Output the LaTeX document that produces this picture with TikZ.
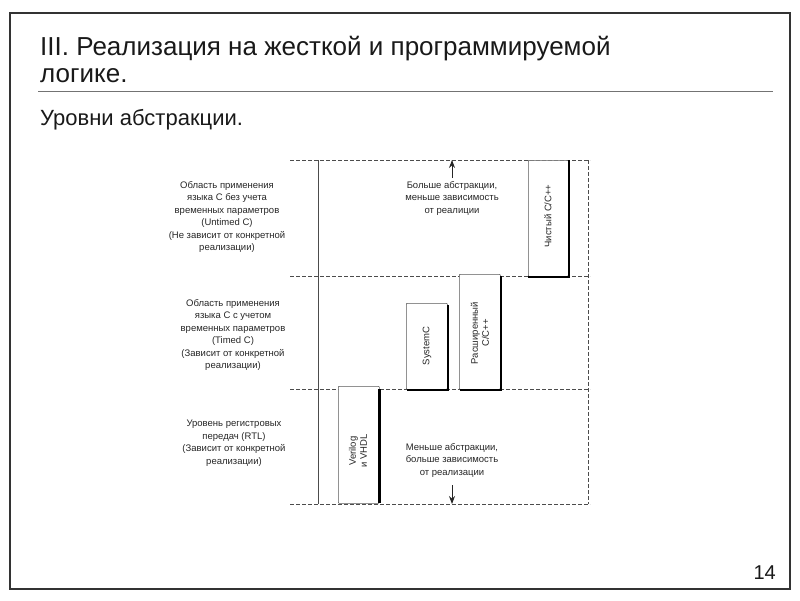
\documentclass[tikz,border=0pt]{standalone}
\usepackage{fontspec}
\setmainfont{Liberation Sans}
\usetikzlibrary{arrows.meta}
\begin{document}
\begin{tikzpicture}[x=1pt,y=-1pt,
  lbl/.style={align=center,font=\fontsize{9.5}{12.5}\selectfont,text=black!85,inner sep=0pt},
  dline/.style={dash pattern=on 4pt off 2pt,black!70,line width=0.8pt},
  langbox/.style={draw=black!65,line width=0.6pt,fill=white,rounded corners=0.8pt},
  heavy/.style={line width=2.6pt,black},
  vtext/.style={rotate=90,align=center,font=\fontsize{9.5}{11}\selectfont,text=black!85,inner sep=0pt},
  arr/.style={-{Stealth[length=8pt,width=6pt]},black!85,line width=0.8pt},
  titlefont/.style={font=\fontsize{26}{27}\selectfont,text=black!90,inner sep=0pt}
]
\useasboundingbox (0,0) rectangle (800,600);
\draw[black!80,line width=1.8pt] (10,13) rectangle (790,589);

\node[titlefont,anchor=base west] (t1) at (40,55) {III. Реализация на жесткой и программируемой};
\node[titlefont,anchor=base west] (t2) at (40,82) {логике.};
\draw[black!55,line width=1pt] (38,91) -- (773,91);
\node[font=\fontsize{22}{24}\selectfont,anchor=base west,inner sep=0pt,text=black!90] (sub) at (40,125) {Уровни абстракции.};
\node[font=\fontsize{20}{22}\selectfont,anchor=base east,inner sep=0pt,text=black!90] (pg) at (776,579) {14};

% grid
\draw[dline] (290,160) -- (590,160);
\draw[dline] (290,276) -- (590,276);
\draw[dline] (290,389) -- (590,389);
\draw[dline] (290,504) -- (590,504);
\draw[black!70,line width=0.6pt] (318,160) -- (318,504);
\draw[dline] (588,160) -- (588,504);

% boxes
\node[langbox,minimum width=40pt,minimum height=116pt,anchor=north west] (pure) at (528,160) {};
\draw[heavy] (569,160) -- (569,277) -- (528,277);
\node[vtext] (puretxt) at (548,216) {Чистый C/C++};

\node[langbox,minimum width=41pt,minimum height=86pt,anchor=north west] (sysc) at (406,303) {};
\draw[heavy] (448,305) -- (448,390) -- (407,390);
\node[vtext] (systxt) at (427,346) {SystemC};

\node[langbox,minimum width=41pt,minimum height=115pt,anchor=north west] (ext) at (459,274) {};
\draw[heavy] (501,276) -- (501,390) -- (460,390);
\node[vtext] (exttxt) at (480,333) {Расширенный\\C/C++};

\node[langbox,minimum width=41pt,minimum height=117pt,anchor=north west] (vlog) at (338,386) {};
\draw[heavy] (379.5,389) -- (379.5,503);
\node[vtext] (vlogtxt) at (358,451) {Verilog\\и VHDL};

% left labels
\node[lbl] (l1) at (227,217) {Область применения\\языка C без учета\\временных параметров\\(Untimed C)\\(Не зависит от конкретной\\реализации)};
\node[lbl] (l2) at (233,335) {Область применения\\языка C с учетом\\временных параметров\\(Timed C)\\(Зависит от конкретной\\реализации)};
\node[lbl] (l3) at (234,443) {Уровень регистровых\\передач (RTL)\\(Зависит от конкретной\\реализации)};

% arrows and notes
\node[lbl] (up) at (452,198) {Больше абстракции,\\меньше зависимость\\от реалиции};
\coordinate (uptop) at (452,160);
\draw[arr] (452,178) -- (uptop);
\node[lbl] (down) at (452,460) {Меньше абстракции,\\больше зависимость\\от реализации};
\coordinate (downbot) at (452,504);
\draw[arr] (452,485) -- (downbot);
\end{tikzpicture}
\end{document}
